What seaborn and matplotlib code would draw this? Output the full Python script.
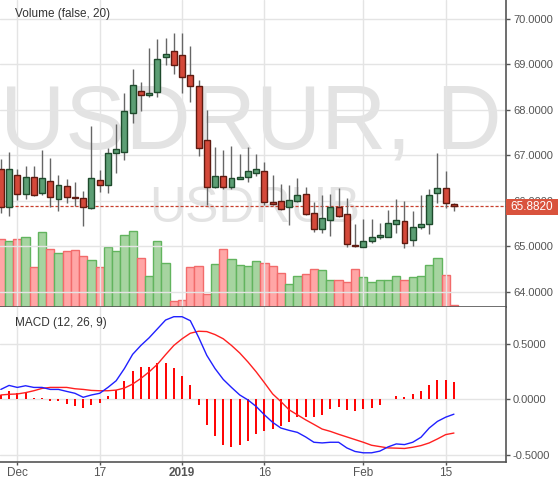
import numpy as np
import pandas as pd
import seaborn as sns
import matplotlib
matplotlib.use("Agg")
import matplotlib.pyplot as plt
from matplotlib.patches import Rectangle

# candle index: 0 = first trading day of Dec 2018
idx = list(range(-2, 54))

opens = [66.692, 65.856, 66.560, 66.142, 66.516, 66.164, 66.428, 66.032, 66.318, 66.091,
         66.054, 65.834, 66.450, 66.340, 67.059, 67.066, 67.939, 68.409, 68.335, 68.387,
         69.157, 69.289, 69.201, 68.761, 68.519, 67.330, 66.311, 66.538, 66.296, 66.487,
         66.516, 66.619, 66.648, 65.981, 65.988, 65.871, 66.003, 66.142, 65.724, 65.372,
         65.570, 65.856, 65.702, 65.028, 64.991, 65.108, 65.196, 65.211, 65.482, 65.556,
         65.130, 65.431, 65.482, 66.164, 66.274, 65.925]
highs = [66.912, 67.074, 66.707, 66.766, 66.766, 67.110, 66.942, 66.568, 66.487, 66.414,
         66.216, 67.646, 66.678, 67.162, 67.682, 68.372, 68.900, 68.614, 69.355, 69.553,
         69.575, 69.692, 69.692, 69.413, 68.658, 67.998, 67.184, 67.110, 67.206, 67.030,
         67.184, 67.030, 66.854, 66.568, 66.370, 66.348, 66.494, 66.296, 65.981, 66.128,
         66.150, 66.274, 66.054, 65.490, 65.600, 65.600, 65.512, 65.798, 66.040, 65.996,
         65.776, 66.128, 66.260, 67.059, 66.663, 65.945]
lows = [65.724, 65.666, 66.018, 66.040, 66.106, 66.135, 65.871, 65.783, 65.959, 65.886,
        65.446, 65.812, 66.201, 66.179, 66.619, 66.905, 67.719, 67.983, 68.291, 68.291,
        68.988, 68.790, 68.379, 68.181, 66.993, 65.915, 66.274, 66.252, 66.260, 66.480,
        66.421, 66.553, 65.900, 65.915, 65.798, 65.468, 65.981, 65.688, 65.321, 65.284,
        65.233, 65.636, 64.991, 64.991, 64.985, 65.079, 65.167, 65.196, 65.299, 64.969,
        65.013, 65.372, 65.262, 65.959, 65.849, 65.768]
closes = [65.871, 66.692, 66.142, 66.516, 66.135, 66.494, 66.076, 66.340, 66.076, 66.061,
          65.856, 66.494, 66.340, 67.044, 67.132, 67.968, 68.541, 68.335, 68.365, 69.113,
          69.230, 68.981, 68.717, 68.519, 67.154, 66.311, 66.538, 66.296, 66.494, 66.524,
          66.648, 66.692, 65.966, 65.937, 65.812, 66.010, 66.120, 65.702, 65.387, 65.614,
          65.856, 65.673, 65.042, 64.999, 65.108, 65.204, 65.248, 65.504, 65.578, 65.064,
          65.416, 65.490, 66.120, 66.274, 65.944, 65.882]
volume = [68, 66, 68, 70, 40, 75, 58, 54, 56, 57,
          51, 47, 40, 60, 56, 72, 76, 49, 31, 66,
          44, 6, 7, 40, 41, 13, 43, 58, 48, 42,
          41, 46, 44, 41, 34, 23, 31, 33, 38, 37,
          27, 27, 25, 38, 30, 25, 27, 27, 31, 27,
          30, 31, 42, 49, 32, 1.3]
macd = [0.089, 0.125, 0.107, 0.122, 0.107, 0.107, 0.089, 0.089, 0.071, 0.054,
        0.018, 0.039, 0.054, 0.107, 0.167, 0.277, 0.405, 0.485, 0.554, 0.634,
        0.714, 0.744, 0.744, 0.708, 0.560, 0.396, 0.277, 0.179, 0.107, 0.039,
        -0.006, -0.065, -0.140, -0.208, -0.259, -0.280, -0.298, -0.339, -0.387, -0.393,
        -0.387, -0.387, -0.438, -0.470, -0.482, -0.482, -0.467, -0.429, -0.402, -0.408,
        -0.387, -0.342, -0.259, -0.199, -0.161, -0.134]
signal = [0.039, 0.045, 0.048, 0.060, 0.077, 0.098, 0.107, 0.107, 0.107, 0.095,
          0.089, 0.080, 0.077, 0.077, 0.083, 0.101, 0.137, 0.188, 0.247, 0.315,
          0.402, 0.485, 0.545, 0.595, 0.613, 0.610, 0.583, 0.545, 0.485, 0.417,
          0.336, 0.247, 0.149, 0.048, -0.021, -0.095, -0.140, -0.185, -0.226, -0.268,
          -0.289, -0.315, -0.339, -0.363, -0.387, -0.414, -0.426, -0.438, -0.440, -0.443,
          -0.432, -0.417, -0.393, -0.357, -0.318, -0.304]
hist = [0.040, 0.074, 0.060, 0.062, 0.015, 0.012, -0.015, -0.015, -0.039, -0.057,
        -0.074, -0.048, -0.030, 0.033, 0.083, 0.167, 0.256, 0.292, 0.292, 0.327,
        0.327, 0.283, 0.208, 0.128, -0.051, -0.229, -0.333, -0.414, -0.432, -0.414,
        -0.372, -0.310, -0.289, -0.265, -0.244, -0.208, -0.161, -0.155, -0.161, -0.137,
        -0.089, -0.071, -0.092, -0.101, -0.089, -0.074, -0.048, 0.002, 0.033, 0.021,
        0.048, 0.077, 0.128, 0.173, 0.173, 0.158]

tick_idx = [0, 10, 20, 30, 42, 52]
tick_labels = ["Dec", "17", "2019", "16", "Feb", "15"]
price_ticks = [64, 65, 66, 67, 68, 69, 70]
macd_ticks = [-0.5, 0.0, 0.5]
last_price = 65.882

df = pd.DataFrame({"idx": idx, "open": opens, "high": highs, "low": lows,
                   "close": closes, "volume": volume,
                   "macd": macd, "signal": signal, "hist": hist})
df["up"] = df["close"] >= df["open"]

sns.set_style("white")
plt.rcParams["font.family"] = ["Liberation Sans", "DejaVu Sans"]

GRID = "#e4e4e4"
AXC = "#555555"

fig = plt.figure(figsize=(5.58, 4.84), dpi=100)
ax = fig.add_axes([0, 0.3663, 0.9068, 0.6337])
axm = fig.add_axes([0, 0.0461, 0.9068, 0.3202], sharex=ax)

# volume on its own scale behind the candles
axv = ax.twinx()
axv.set_zorder(ax.get_zorder() - 1)
ax.patch.set_visible(False)
vol_face = np.where(df["up"], "#a6d4a0", "#ffa6a6")
vol_edge = np.where(df["up"], "#62b45e", "#f26b6b")
axv.bar(df["idx"], df["volume"], width=1.0, color=vol_face, edgecolor=vol_edge, linewidth=1)
axv.set_ylim(0, 306.7)
axv.set_yticks([])
for s in axv.spines.values():
    s.set_visible(False)

# watermark
ax.text(0.0, 0.5165, "USDRUR, D", transform=ax.transAxes, fontsize=65,
        color="#e3e3e3", va="baseline", ha="left", zorder=0.3)
ax.text(0.2945, 0.277, "USDRUB", transform=ax.transAxes, fontsize=36,
        color="#e3e3e3", va="baseline", ha="left", zorder=0.3)

# candles
ax.vlines(df["idx"], df["low"], df["high"], color="#666666", linewidth=1, zorder=2)
body_lo = np.minimum(df["open"], df["close"])
body_h = (df["open"] - df["close"]).abs()
face = np.where(df["up"], "#5c9e74", "#d4493a")
edge = np.where(df["up"], "#1e4a2c", "#5e1a10")
ax.bar(df["idx"], body_h, bottom=body_lo, width=0.72, color=face,
       edgecolor=edge, linewidth=1, zorder=3)

ax.axhline(last_price, color="#c8402e", linestyle=(0, (2.5, 1.5)), linewidth=0.9, zorder=1.5)

ax.set_ylim(63.670, 70.418)
ax.set_xlim(-2.10, 59.32)
ax.set_yticks(price_ticks)
ax.set_yticklabels([f"{p:.4f}" for p in price_ticks])
ax.yaxis.tick_right()
ax.set_xticks(tick_idx)
ax.grid(True, color=GRID, linewidth=1)
ax.set_axisbelow(True)
ax.tick_params(axis="x", length=0, labelbottom=False)
ax.tick_params(axis="y", right=True, left=False, length=3, width=1, color=AXC,
               labelcolor=AXC, labelsize=8, pad=2)
for side in ["left", "top"]:
    ax.spines[side].set_visible(False)
for side in ["right", "bottom"]:
    ax.spines[side].set_color(AXC)
    ax.spines[side].set_linewidth(1.2)
ax.text(15 / 506, 1 - 14 / 306.7, "Volume (false, 20)", transform=ax.transAxes,
        fontsize=8.5, color="#333333", va="center", ha="left")

# MACD panel
axm.vlines(df["idx"], 0, df["hist"], color="#ff0000", linewidth=1.4, zorder=2)
sns.lineplot(data=df, x="idx", y="signal", color="#ff2020", linewidth=1, ax=axm, zorder=3)
sns.lineplot(data=df, x="idx", y="macd", color="#2020ff", linewidth=1, ax=axm, zorder=4)
axm.set_xlabel("")
axm.set_ylabel("")
axm.set_ylim(-0.562, 0.834)
axm.set_yticks(macd_ticks)
axm.set_yticklabels([f"{m:.4f}" for m in macd_ticks])
axm.yaxis.tick_right()
axm.set_xticks(tick_idx)
axm.set_xticklabels(tick_labels)
axm.grid(True, color=GRID, linewidth=1)
axm.set_axisbelow(True)
axm.tick_params(axis="y", right=True, left=False, length=3, width=1, color=AXC,
                labelcolor=AXC, labelsize=8, pad=2)
axm.tick_params(axis="x", bottom=True, length=2, width=1, color=AXC,
                labelcolor=AXC, labelsize=8.5, pad=2)
for lbl in axm.get_xticklabels():
    if lbl.get_text() == "2019":
        lbl.set_fontweight("bold")
for side in ["left", "top"]:
    axm.spines[side].set_visible(False)
for side in ["right", "bottom"]:
    axm.spines[side].set_color(AXC)
    axm.spines[side].set_linewidth(1.2)
axm.text(15 / 506, 1 - 16 / 155, "MACD (12, 26, 9)", transform=axm.transAxes,
         fontsize=8.5, color="#333333", va="center", ha="left")

# last price tag (covers part of the 66.0000 label, as in the original)
fig.add_artist(Rectangle((506 / 558, (484 - 215) / 484), 52 / 558, 16 / 484,
                         transform=fig.transFigure, facecolor="#d9533d",
                         edgecolor="none", zorder=10))
fig.text(532 / 558, (484 - 207.5) / 484, f"{last_price:.4f}", color="white",
         fontsize=8.5, ha="center", va="center", zorder=11)

fig.savefig("out.png", dpi=100)
